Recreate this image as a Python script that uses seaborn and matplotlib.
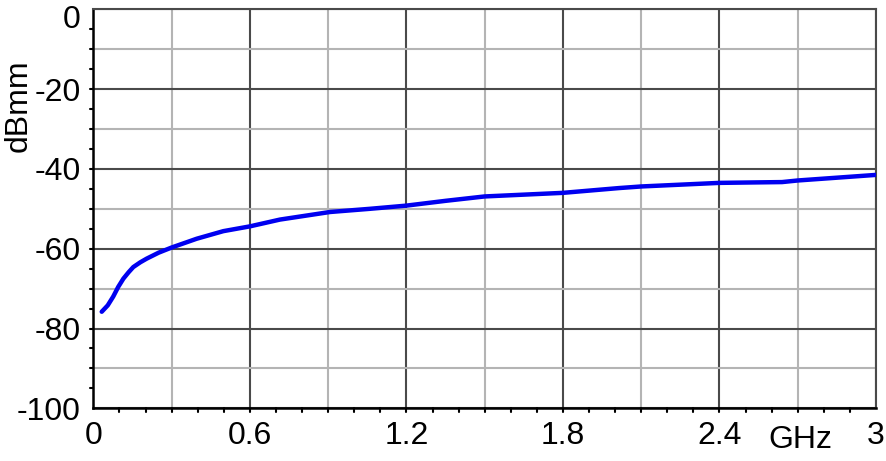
import numpy as np
import pandas as pd
import seaborn as sns
import matplotlib
matplotlib.use('Agg')
import matplotlib.pyplot as plt
import matplotlib.transforms as mtransforms
from matplotlib.ticker import MultipleLocator

# values
freq_ghz = [0.032, 0.055, 0.076, 0.095, 0.115, 0.135, 0.153, 0.180, 0.204,
            0.250, 0.300, 0.396, 0.498, 0.600, 0.715, 0.907, 1.060, 1.200,
            1.350, 1.500, 1.800, 2.015, 2.100, 2.400, 2.640, 2.700, 2.850,
            3.000]
level_dbmm = [-75.8, -74.2, -72.0, -69.6, -67.5, -65.9, -64.6, -63.4, -62.5,
              -61.0, -59.7, -57.5, -55.6, -54.4, -52.7, -50.8, -50.0, -49.2,
              -48.0, -46.9, -46.0, -44.8, -44.4, -43.5, -43.3, -42.9, -42.2,
              -41.5]

x_ticks = [0, 0.6, 1.2, 1.8, 2.4, 3]
x_ticklabels = ['0', '0.6', '1.2', '1.8', '2.4', '3']
y_ticks = [0, -20, -40, -60, -80, -100]

df = pd.DataFrame({'GHz': freq_ghz, 'dBmm': level_dbmm})

sns.set_style('white')
plt.rcParams['font.family'] = ['Liberation Sans', 'DejaVu Sans']
plt.rcParams['axes.unicode_minus'] = False

fig = plt.figure(figsize=(8.86, 4.61), dpi=100)
ax = fig.add_axes([0.1054, 0.1143, 0.8833, 0.8655])

# grid: light minor lines, dark major lines
ax.xaxis.set_minor_locator(MultipleLocator(0.3))
ax.yaxis.set_minor_locator(MultipleLocator(10))
ax.grid(which='minor', color='#b4b4b4', lw=1.5, zorder=0)
ax.grid(which='major', color='#4a4a4a', lw=1.5, zorder=0)

sns.lineplot(data=df, x='GHz', y='dBmm', ax=ax, color='#0000f0', lw=3.2,
             zorder=3)

ax.set_xlim(0, 3)
ax.set_ylim(-100, 0)
ax.set_xticks(x_ticks)
ax.set_xticklabels(x_ticklabels)
ax.set_yticks(y_ticks)
ax.tick_params(axis='both', which='major', labelsize=23, length=4, width=1.5,
               direction='out', color='black', labelcolor='black', pad=5)
ax.tick_params(axis='both', which='minor', length=0)

# the top "0" label sits a little lower so it stays inside the figure
shift = mtransforms.ScaledTranslation(0, -5 / 72, fig.dpi_scale_trans)
top_label = ax.get_yticklabels()[0]
top_label.set_transform(top_label.get_transform() + shift)

# small extra ticks every 0.1 GHz / 5 dB, drawn outside the axes
for xv in np.arange(0.1, 3.0, 0.1):
    ax.plot([xv, xv], [-100, -101], color='black', lw=1.5, clip_on=False,
            zorder=4)
for yv in np.arange(-95, 0, 5):
    ax.plot([0, -0.012], [yv, yv], color='black', lw=1.5, clip_on=False,
            zorder=4)

for side in ['left', 'bottom']:
    ax.spines[side].set_color('black')
    ax.spines[side].set_linewidth(1.8)
for side in ['top', 'right']:
    ax.spines[side].set_color('#4a4a4a')
    ax.spines[side].set_linewidth(1.5)

ax.set_xlabel('')
ax.set_ylabel('')
fig.text(0.903, 0.012, 'GHz', fontsize=23, color='black', ha='center',
         va='bottom')
fig.text(0.021, 0.77, 'dBmm', fontsize=23, color='black', rotation=90,
         ha='center', va='center')

fig.savefig('out.png', dpi=100)
